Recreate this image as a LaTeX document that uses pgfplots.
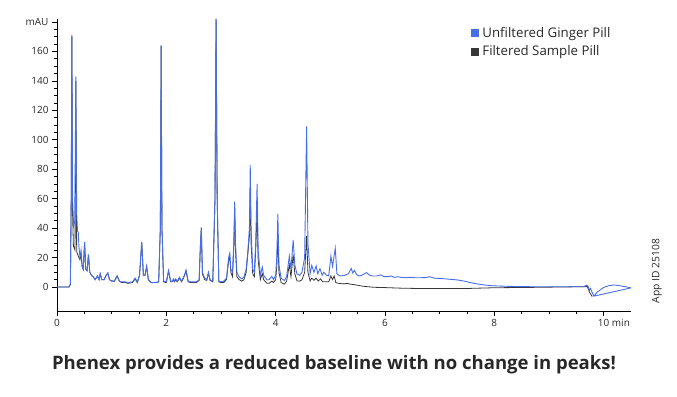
\documentclass[border=0pt]{standalone}
\usepackage{fontspec}
\setmainfont{Open Sans}
\usepackage{pgfplots}
\pgfplotsset{compat=1.18}
\definecolor{ublue}{RGB}{70,110,235}
\definecolor{fgray}{RGB}{55,55,55}
\definecolor{txt}{RGB}{40,40,40}

\begin{document}
\begin{tikzpicture}[x=1bp,y=1bp]
\path[use as bounding box] (0,0) rectangle (677,396);
\begin{axis}[
 at={(57bp,85bp)}, anchor=south west,
 scale only axis, width=574bp, height=292bp,
 xmin=0, xmax=10.5, ymin=-16.3, ymax=182,
 axis lines=left, axis line style={-, line width=0.8bp, black},
 tick align=outside,
 xtick={0,2,4,6,8,10}, xticklabels={0,2,4,6,8,10\rlap{ min}},
 minor x tick num=3,
 ytick={0,20,40,60,80,100,120,140,160,180},
 yticklabels={0,20,40,60,80,100,120,140,160,mAU},
 minor y tick num=3,
 major tick length=5bp, minor tick length=3bp,
 tick style={black, line width=0.6bp},
 ticklabel style={font=\fontsize{10}{12}\selectfont, text=txt},
 legend style={at={(0.721,0.978)}, anchor=north west, draw=none, fill=none,
   font=\fontsize{13.3}{15}\selectfont, text=txt, row sep=2.5bp, inner sep=0pt,
   /tikz/every odd column/.append style={column sep=1.5bp}},
 legend cell align=left,
 legend image code/.code={\fill[#1] (0bp,-3.5bp) rectangle (7bp,3.5bp);},
 reverse legend,
]
\addplot[color=fgray, line width=0.8bp] table {
0.00 0
0.22 0
0.245 2
0.26 60
0.272 170
0.285 50
0.30 28
0.33 25
0.345 140
0.36 24
0.38 22
0.40 20
0.42 18.5
0.44 22
0.46 14
0.48 12
0.505 30.5
0.525 12
0.55 11
0.575 22
0.60 10
0.63 8
0.66 7
0.70 5
0.74 7.5
0.77 5
0.79 9
0.82 5
0.86 5
0.90 8
0.93 9.5
0.96 5
1.00 4
1.05 4
1.10 7.5
1.14 4
1.18 3
1.25 3
1.30 2.5
1.38 3
1.43 5.5
1.47 3
1.51 8
1.55 30.5
1.58 8
1.61 8
1.64 14
1.67 5
1.72 3
1.80 3
1.86 3.5
1.89 40
1.905 164
1.92 40
1.95 3.5
2.00 3
2.04 11
2.08 3.5
2.11 3.5
2.13 5
2.15 3.5
2.17 5
2.20 3.5
2.24 6
2.28 3.5
2.33 7.5
2.36 11
2.40 3.5
2.45 3
2.55 3
2.60 4.5
2.625 30
2.64 40
2.66 9
2.70 5
2.74 4.5
2.77 9.5
2.80 4.5
2.85 3.5
2.89 60
2.91 182
2.93 60
2.96 3.5
3.00 3
3.05 3
3.10 5
3.14 18
3.16 21
3.18 10
3.21 7
3.235 28
3.25 53.5
3.265 25
3.29 7
3.33 5
3.38 4
3.42 5
3.46 10
3.49 22
3.52 35
3.535 68
3.55 30
3.58 9
3.61 7
3.635 25
3.66 52
3.68 18
3.72 5
3.755 9
3.78 5
3.84 2.5
3.88 2.5
3.93 4
3.96 3
4.00 5
4.02 14
4.04 34
4.06 10
4.10 3
4.16 2
4.20 4
4.25 15
4.28 7
4.32 22
4.35 9
4.39 4.1
4.44 4
4.48 4.8
4.53 10
4.566 34.7
4.59 10
4.63 4.1
4.66 6
4.70 4.5
4.74 6
4.78 4
4.82 5.5
4.86 3.5
4.92 3.5
4.97 3.5
5.01 7.5
5.04 5
5.07 7.5
5.10 3
5.15 2.5
5.25 2.1
5.30 2.5
5.36 2
5.45 1.5
5.60 0.5
5.80 -0.2
6.00 -0.4
6.30 -0.8
6.60 -1
7.00 -1
7.50 -1
8.00 -0.5
8.60 -0.3
9.20 0
9.64 0.2
9.70 0.3
9.74 -3.5
9.79 -6.5
};
\addlegendentry{Filtered Sample Pill}
\addplot[color=ublue, line width=0.9bp] table {
0.00 0
0.22 0
0.245 2
0.26 60
0.272 171
0.285 60
0.305 40
0.325 45
0.345 143
0.36 50
0.375 38
0.39 37
0.40 28
0.42 20
0.44 25
0.46 14
0.48 12
0.505 30.5
0.525 12
0.55 11
0.575 22
0.60 10
0.63 8
0.66 7
0.70 5
0.74 7.5
0.77 5
0.79 9
0.82 5
0.86 5
0.90 8
0.93 9.5
0.96 5
1.00 4
1.05 4
1.10 7.5
1.14 4
1.18 3.5
1.25 3.5
1.30 3
1.38 3.5
1.43 6
1.47 3.5
1.51 8
1.55 30.5
1.58 8
1.61 8
1.64 14
1.67 5
1.72 3
1.80 3
1.86 3.5
1.89 40
1.905 164
1.92 40
1.95 4
2.00 3.5
2.04 11
2.08 4
2.11 4
2.13 5.5
2.15 4
2.17 5.5
2.20 4
2.24 6.6
2.28 4
2.33 8
2.36 11.5
2.40 4
2.45 3.5
2.55 3.5
2.60 5
2.625 30
2.64 40.4
2.66 10
2.70 6
2.74 5
2.77 10
2.80 5
2.85 4
2.89 60
2.91 182
2.93 60
2.96 4
3.00 3.5
3.05 4
3.10 6
3.14 20
3.16 23
3.18 12
3.21 10
3.235 30
3.25 58
3.265 30
3.29 10
3.33 7
3.38 5.5
3.42 7
3.46 12
3.49 24
3.52 40
3.535 83
3.55 40
3.58 12
3.61 10
3.635 30
3.66 70
3.68 25
3.72 8
3.755 13.5
3.78 8
3.84 4.8
3.88 5
3.93 7.3
3.96 5
4.00 8
4.02 20
4.04 49.7
4.06 15
4.10 5.9
4.16 4.4
4.20 7
4.25 21
4.28 12
4.32 32
4.35 15
4.39 8.8
4.44 8
4.48 10
4.53 20
4.566 109
4.59 30
4.63 9
4.66 14.7
4.70 10
4.74 14.3
4.77 9
4.81 12.5
4.85 8
4.88 10
4.93 8
4.97 7.5
5.01 21
5.04 14
5.09 26.3
5.12 9
5.17 7.5
5.25 7.8
5.33 9
5.38 12.7
5.41 9.5
5.44 11.3
5.48 8.5
5.52 7.5
5.58 8
5.66 9.8
5.72 8
5.77 7.5
5.85 7.5
5.92 8.2
5.98 7
6.05 7
6.11 7.5
6.17 6.5
6.23 7
6.30 6.5
6.40 6.3
6.47 6.6
6.55 6.3
6.65 6.3
6.75 6.4
6.82 7
6.90 6
7.00 5.8
7.08 5.6
7.20 5.2
7.32 4.8
7.45 4
7.56 3
7.70 2
7.81 1.4
7.95 0.9
8.05 0.7
8.30 0.4
8.66 0.2
9.00 0.2
9.40 0.2
9.64 0.2
9.68 1.2
9.71 0.8
9.74 -2
9.76 -1
9.78 -3
9.82 -6.2
9.88 -3.5
10.00 -0.3
10.10 1.0
10.20 1.4
10.30 0.8
10.40 0.2
10.50 -0.6
9.82 -6.2
};
\addlegendentry{Unfiltered Ginger Pill}
\end{axis}
\node[font=\bfseries\fontsize{18.6}{21}\selectfont, text=txt] at (334,31) {Phenex provides a reduced baseline with no change in peaks!};
\node[rotate=90, font=\fontsize{10.3}{12}\selectfont, text=txt] at (657,125) {App ID 25108};
\end{tikzpicture}
\end{document}
